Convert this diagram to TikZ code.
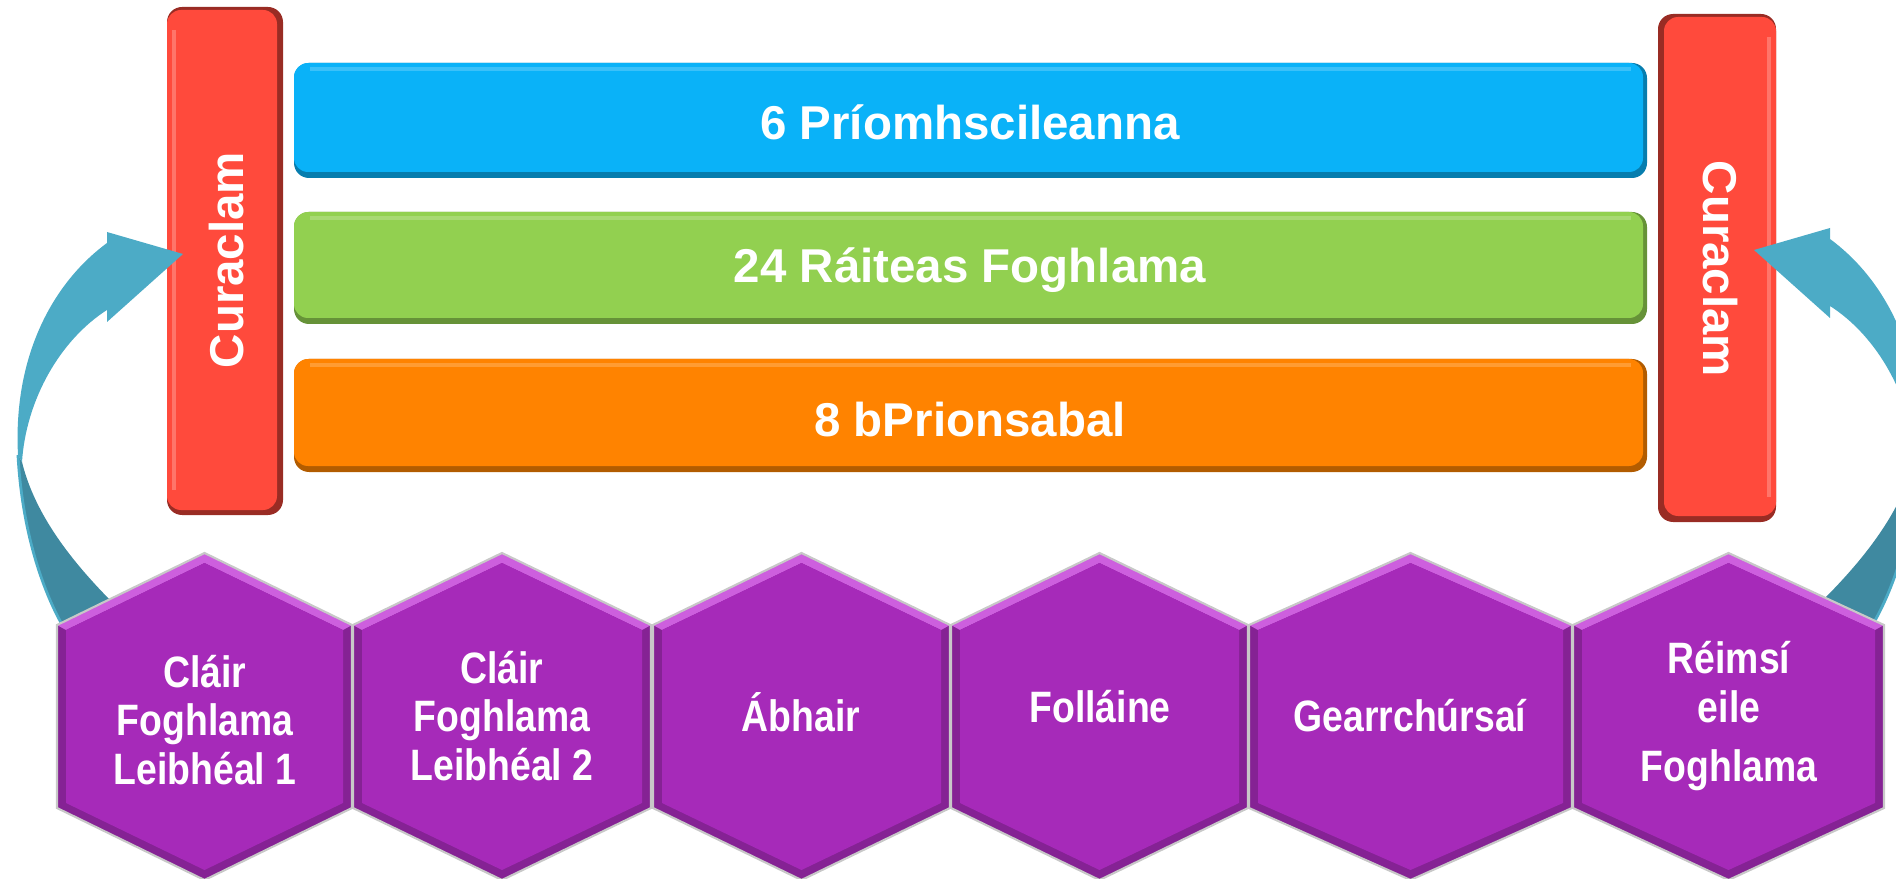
\documentclass[tikz,border=0pt]{standalone}
\usepackage{fontspec}
\setmainfont{Liberation Sans}
\newfontfamily\hexfont{Liberation Sans}[FakeStretch=0.85]
\definecolor{barblue}{RGB}{10,178,248}
\definecolor{bargreen}{RGB}{146,208,80}
\definecolor{barorange}{RGB}{255,131,0}
\definecolor{pillarred}{RGB}{255,74,60}
\definecolor{hexpurple}{RGB}{166,42,185}
\definecolor{hexlight}{RGB}{205,95,222}
\definecolor{hexedge}{RGB}{200,200,200}
\definecolor{arrowlight}{RGB}{76,171,198}
\definecolor{arrowdark}{RGB}{63,137,160}

\newcommand\mybar[5]{%
  \fill[#1!70!black, rounded corners=0.15cm] (#2,#3) rectangle (#4,#5);
  \fill[#1, rounded corners=0.14cm] (#2,#3) rectangle (#4-4,#5-6);
  \draw[#1!60!white, line width=1.2pt, opacity=.5] (#2+16,#3+6) -- (#4-16,#3+6);
}
\newcommand\myhex[2]{%
  \pgfmathsetmacro\hxc{(#1+#2)/2}
  \fill[hexpurple!80!black] (#1,625) -- (\hxc,553) -- (#2,625) -- (#2,808) -- (\hxc,880) -- (#1,808) -- cycle;
  \fill[hexlight] (#1,625) -- (\hxc,553) -- (#2,625) -- (#2-9,630) -- (\hxc,563) -- (#1+9,630) -- cycle;
  \fill[hexpurple] (#1+9,630) -- (\hxc,563) -- (#2-9,630) -- (#2-9,803) -- (\hxc,870) -- (#1+9,803) -- cycle;
  \draw[hexedge, line width=0.6pt] (#1,625) -- (\hxc,553) -- (#2,625) -- (#2,808) -- (\hxc,880) -- (#1,808) -- cycle;
}
\newcommand\mycurvearrow{%
  \fill[arrowdark] (18,455) .. controls (22,530) and (42,590) .. (64,628) -- (114,604) .. controls (72,562) and (35,515) .. (22,462) -- cycle;
  \draw[arrowlight, line width=0.8pt] (18,455) .. controls (22,530) and (42,590) .. (64,628);
  \fill[arrowlight] (18,455) .. controls (13,360) and (50,285) .. (107,243) -- (107,232) -- (183,254) -- (107,322) -- (107,310) .. controls (60,340) and (26,400) .. (22,462) -- cycle;
}

\begin{document}
\begin{tikzpicture}[x=0.01cm,y=-0.01cm,
  bartext/.style={text=white, inner sep=0pt, font=\bfseries\fontsize{13.5}{16}\selectfont},
  hextext/.style={text=white, inner sep=0pt, align=center, font=\hexfont\bfseries\fontsize{12.5}{13.9}\selectfont}]
\useasboundingbox (0,0) rectangle (1896,879);
\clip (0,0) rectangle (1896,879);

% pillars
\fill[pillarred!60!black, rounded corners=0.15cm] (167,7) rectangle (283,515);
\fill[pillarred, rounded corners=0.14cm] (167,10) rectangle (277,510);
\draw[pillarred!60!white, line width=1pt, opacity=.6] (174,30) -- (174,490);
\fill[pillarred!60!black, rounded corners=0.15cm] (1658,14) rectangle (1776,522);
\fill[pillarred, rounded corners=0.14cm] (1664,17) rectangle (1776,516);
\draw[pillarred!60!white, line width=1pt, opacity=.6] (1769,37) -- (1769,497);
\node[bartext, rotate=90] (cl) at (227,260) {Curaclam};
\node[bartext, rotate=-90] (cr) at (1720,269) {Curaclam};

% bars
\mybar{barblue}{294}{63}{1647}{178}
\mybar{bargreen}{294}{212}{1647}{324}
\mybar{barorange}{294}{359}{1647}{472}
\node[bartext] (b1) at (970,122) {6 Príomhscileanna};
\node[bartext] (b2) at (970,270) {24 Ráiteas Foghlama};
\node[bartext] (b3) at (970,420) {8 bPrionsabal};

% arrows
\mycurvearrow
\begin{scope}[shift={(1937,-4)}, xscale=-1]
\mycurvearrow
\end{scope}

% hexagons
\myhex{57}{352}
\myhex{353}{651}
\myhex{653}{950}
\myhex{951}{1248}
\myhex{1249}{1572}
\myhex{1573}{1884}
\node[hextext] (h1) at (205,720) {Cláir\\Foghlama\\Leibhéal 1};
\node[hextext] (h2) at (502,716) {Cláir\\Foghlama\\Leibhéal 2};
\node[hextext] (h3) at (801,712) {Ábhair};
\node[hextext] (h4) at (1100,707) {Folláine};
\node[hextext] (h5) at (1410,716) {Gearrchúrsaí};
\node[hextext] (h6) at (1729,716) {Réimsí\\eile\\[3pt]Foghlama};
\end{tikzpicture}
\end{document}
